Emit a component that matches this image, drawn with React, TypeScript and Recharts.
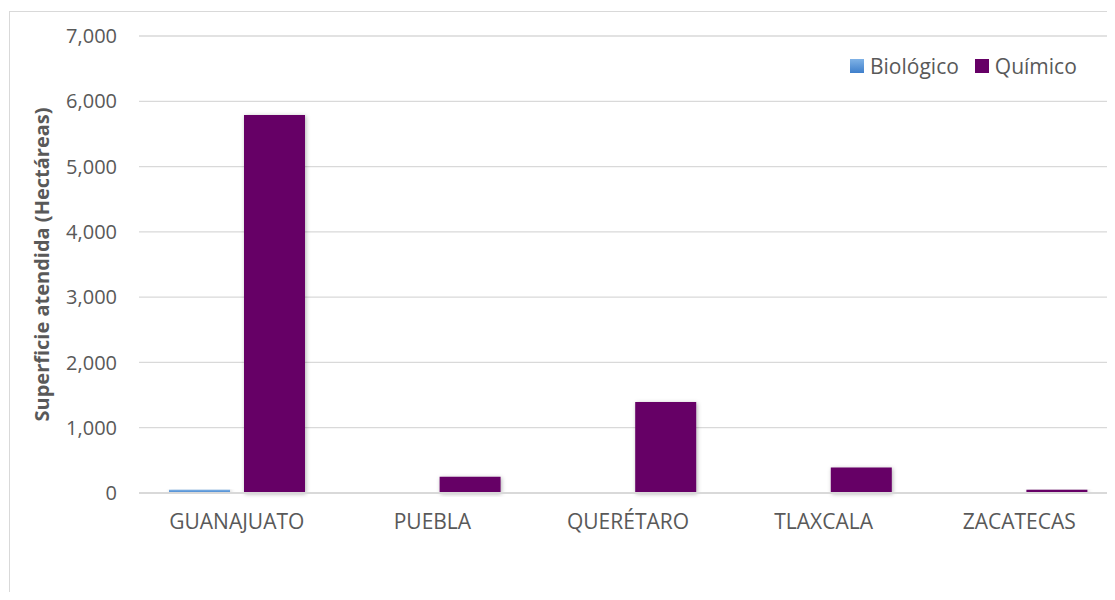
import React from 'react';
import { BarChart, Bar, XAxis, YAxis, CartesianGrid, Legend } from 'recharts';

const categories = ['GUANAJUATO', 'PUEBLA', 'QUERÉTARO', 'TLAXCALA', 'ZACATECAS'];
const biologico = [50, 0, 0, 0, 0];
const quimico = [5790, 250, 1395, 390, 50];
const yTicks = [0, 1000, 2000, 3000, 4000, 5000, 6000, 7000];
const seriesNames = ['Biológico', 'Químico'];
const yLabel = 'Superficie atendida (Hectáreas)';

const data = categories.map((c, i) => ({ name: c, bio: biologico[i], qui: quimico[i] }));

const FONT = '"Open Sans", "Noto Sans", sans-serif';
const TEXT = '#595959';

const legendItems = [
  { name: seriesNames[0] },
  { name: seriesNames[1] },
];

const renderLegend = () => (
  <div style={{ display: 'flex', alignItems: 'center', fontFamily: FONT, fontSize: 21, color: TEXT, whiteSpace: 'nowrap' }}>
    {legendItems.map((it, i) => (
      <div key={it.name} style={{ display: 'flex', alignItems: 'center', marginLeft: i === 0 ? 0 : 16 }}>
        <svg width={14} height={14} style={{ marginRight: 6 }}>
          <defs>
            <linearGradient id={`lg${i}`} x1="0" y1="0" x2="0" y2="1">
              <stop offset="0%" stopColor={i === 0 ? '#7FB2E6' : '#660066'} />
              <stop offset="100%" stopColor={i === 0 ? '#3F7FCB' : '#660066'} />
            </linearGradient>
          </defs>
          <rect width={14} height={14} fill={`url(#lg${i})`} />
        </svg>
        <span>{it.name}</span>
      </div>
    ))}
  </div>
);

export default function App() {
  return (
    <div style={{ position: 'relative', width: 1107, height: 592, overflow: 'hidden', background: '#fff', marginBottom: -8, marginRight: -8 }}>
      <div style={{ position: 'absolute', left: 1, top: 3, width: 1300, height: 800, border: '1px solid #d9d9d9', boxSizing: 'border-box' }} />
      <div style={{ position: 'absolute', left: 0, top: 0 }}>
        <BarChart
          width={1130}
          height={592}
          data={data}
          margin={{ top: 28, right: 21, bottom: 77, left: 0 }}
          barCategoryGap={30}
          barGap={14}
        >
          <defs>
            <linearGradient id="blueGrad" x1="0" y1="0" x2="0" y2="1">
              <stop offset="0%" stopColor="#7FB2E6" />
              <stop offset="100%" stopColor="#3F7FCB" />
            </linearGradient>
            <filter id="shadow" x="-20%" y="-20%" width="140%" height="140%">
              <feDropShadow dx="1" dy="1" stdDeviation="2" floodColor="#000" floodOpacity="0.3" />
            </filter>
          </defs>
          <CartesianGrid vertical={false} stroke="#d9d9d9" strokeWidth={1.3} />
          <XAxis
            dataKey="name"
            axisLine={{ stroke: '#d9d9d9', strokeWidth: 2 }}
            tickLine={false}
            tickSize={0}
            tickMargin={21}
            height={30}
            tick={{ fill: TEXT, fontSize: 21, fontFamily: FONT }}
          />
          <YAxis
            width={131}
            domain={[0, 7000]}
            ticks={yTicks}
            interval={0}
            axisLine={false}
            tickLine={false}
            tickSize={0}
            tickMargin={22}
            tickFormatter={(v: number) => v.toLocaleString('en-US')}
            tick={{ fill: TEXT, fontSize: 20, fontFamily: FONT }}
            label={{
              value: yLabel,
              angle: -90,
              position: 'insideLeft',
              offset: 34,
              textAnchor: 'middle',
              style: { fill: TEXT, fontSize: 20, fontWeight: 700, fontFamily: FONT, textAnchor: 'middle' },
            }}
          />
          <Legend
            content={renderLegend}
            wrapperStyle={{ position: 'absolute', left: 842, top: 44, width: 'auto', height: 0, overflow: 'visible' }}
          />
          <Bar dataKey="bio" name={seriesNames[0]} fill="url(#blueGrad)" filter="url(#shadow)" isAnimationActive={false} />
          <Bar dataKey="qui" name={seriesNames[1]} fill="#660066" filter="url(#shadow)" isAnimationActive={false} />
        </BarChart>
      </div>
    </div>
  );
}
